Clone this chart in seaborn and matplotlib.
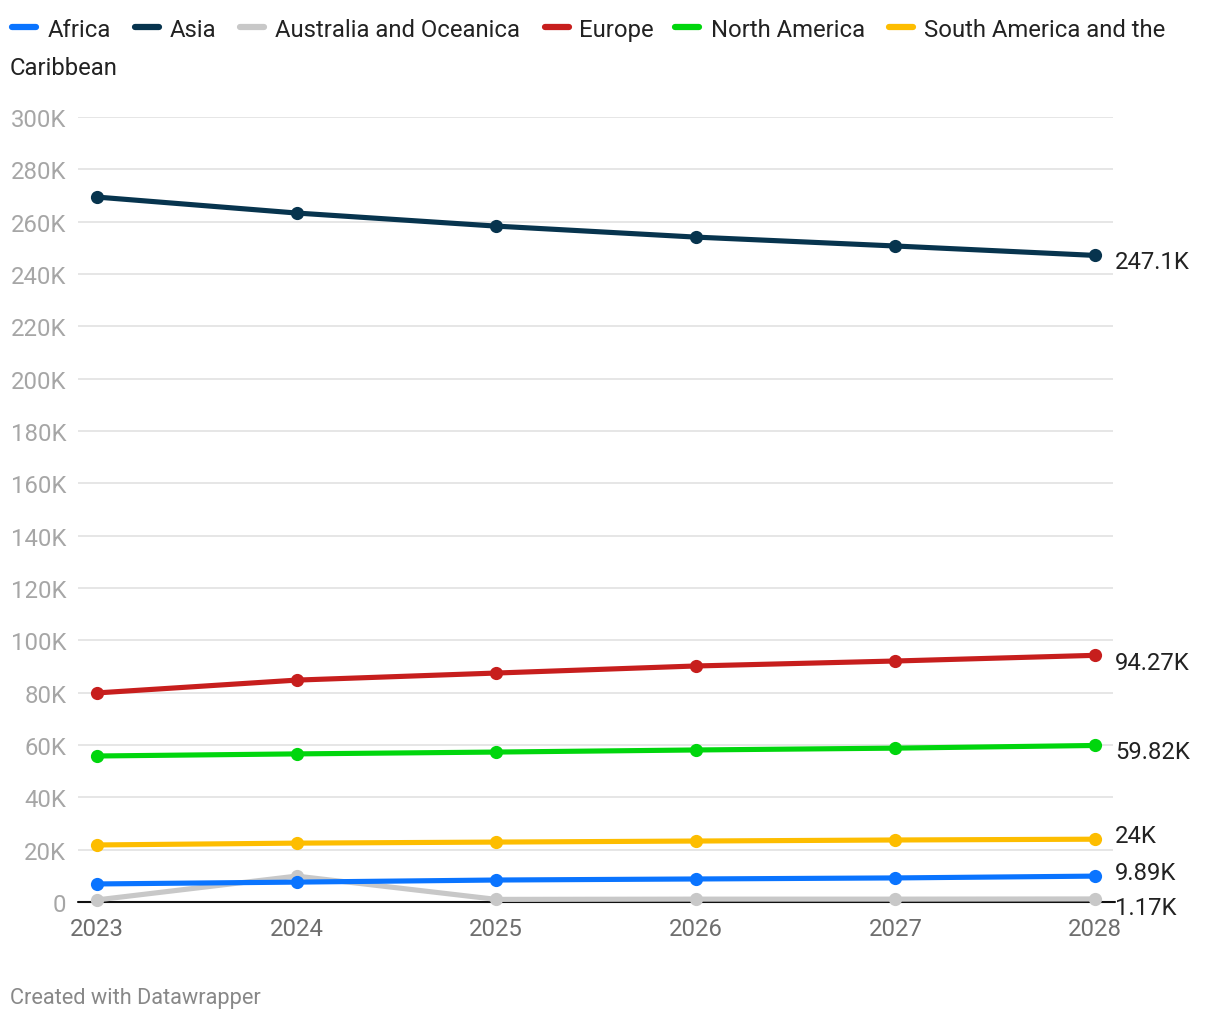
import pandas as pd
import matplotlib.pyplot as plt
from matplotlib.lines import Line2D
from matplotlib.ticker import FuncFormatter
import seaborn as sns

# Values (in thousands)
years = [2023, 2024, 2025, 2026, 2027, 2028]
regions = ['Africa', 'Asia', 'Australia and Oceanica', 'Europe',
           'North America', 'South America and the Caribbean']
africa = [6.9, 7.6, 8.4, 8.8, 9.2, 9.89]
asia = [269.4, 263.3, 258.3, 254.1, 250.7, 247.1]
australia = [0.8, 9.9, 1.0, 1.1, 1.1, 1.17]
europe = [79.9, 84.8, 87.5, 90.2, 92.1, 94.27]
north_america = [55.8, 56.6, 57.3, 58.1, 58.8, 59.82]
south_america = [21.8, 22.5, 22.9, 23.3, 23.7, 24.0]
end_labels = ['9.89K', '247.1K', '1.17K', '94.27K', '59.82K', '24K']
y_ticks = list(range(0, 301, 20))

colors = {
    'Africa': '#0a74ff',
    'Asia': '#07344e',
    'Australia and Oceanica': '#c8c8c8',
    'Europe': '#c71e1d',
    'North America': '#00d60d',
    'South America and the Caribbean': '#fdbd00',
}

series = [africa, asia, australia, europe, north_america, south_america]
rows = []
for name, vals in zip(regions, series):
    for yr, v in zip(years, vals):
        rows.append({'year': yr, 'region': name, 'value': v * 1000})
df = pd.DataFrame(rows)

sns.set_theme(style='white')
plt.rcParams['font.family'] = ['Roboto', 'DejaVu Sans']

FS = 17.2
W, H = 1220, 1020
fig = plt.figure(figsize=(W / 100, H / 100), dpi=100)
ax = fig.add_axes([78 / W, (H - 903) / H, (1113 - 78) / W, (903 - 118) / H])

# grey drawn first so the blue line sits on top
draw_order = ['Australia and Oceanica', 'South America and the Caribbean',
              'North America', 'Europe', 'Asia', 'Africa']
sns.lineplot(data=df, x='year', y='value', hue='region', hue_order=draw_order,
             palette=colors, marker='o', markersize=9.5, markeredgewidth=0,
             linewidth=3.7, legend=False, ax=ax, zorder=3)
for ln in ax.lines:
    ln.set_solid_capstyle('round')
    ln.set_clip_on(False)

ax.set_xlim(2022.905, 2028.09)
ax.set_ylim(0, 300000)
ax.set_yticks([t * 1000 for t in y_ticks])
ax.yaxis.set_major_formatter(FuncFormatter(lambda v, p: '0' if v == 0 else f'{int(v / 1000)}K'))
ax.set_xticks(years)
ax.grid(axis='y', color='#e2e2e2', linewidth=1.2)
ax.grid(axis='x', visible=False)
for s in ax.spines.values():
    s.set_visible(False)
ax.axhline(0, color='#111111', linewidth=1.5, zorder=2, xmax=1.002, clip_on=False)
ax.tick_params(axis='y', length=0, pad=8.5, labelsize=FS, labelcolor='#a6a6a6')
ax.tick_params(axis='x', length=0, pad=11, labelsize=FS, labelcolor='#6e6e6e')
ax.set_xlabel('')
ax.set_ylabel('')

# end-of-line value labels (vertical nudges in px to avoid overlaps)
nudge_px = {'Africa': -4, 'Asia': 6, 'Australia and Oceanica': 9, 'Europe': 7,
            'North America': 6, 'South America and the Caribbean': -4}
for name, vals, lab in zip(regions, series, end_labels):
    ax.annotate(lab, (years[-1], vals[-1] * 1000), xytext=(14.4, -nudge_px[name] * 0.72),
                textcoords='offset points', ha='left', va='center',
                fontsize=FS, color='#222222', annotation_clip=False)

# legend drawn by hand to mimic the wrapped Datawrapper legend
legend_pos = [(12, 36, 48), (135, 159, 170), (240, 264, 275),
              (545, 569, 579), (675, 699, 711), (889, 913, 924)]
legend_text = ['Africa', 'Asia', 'Australia and Oceanica', 'Europe',
               'North America', 'South America and the']
base1, base2 = 37, 75
for name, (x0, x1, xt), txt in zip(regions, legend_pos, legend_text):
    fig.add_artist(Line2D([x0 / W, x1 / W], [1 - 28 / H, 1 - 28 / H], color=colors[name],
                          linewidth=4.5, solid_capstyle='round', transform=fig.transFigure))
    fig.text(xt / W, 1 - base1 / H, txt, ha='left', va='baseline', fontsize=FS, color='#222222')
fig.text(10 / W, 1 - base2 / H, 'Caribbean', ha='left', va='baseline', fontsize=FS, color='#222222')

fig.text(10 / W, 1 - 999 / H, 'Created with Datawrapper', ha='left', va='center',
         fontsize=15.7, color='#888888')

fig.savefig('out.png', dpi=100)
